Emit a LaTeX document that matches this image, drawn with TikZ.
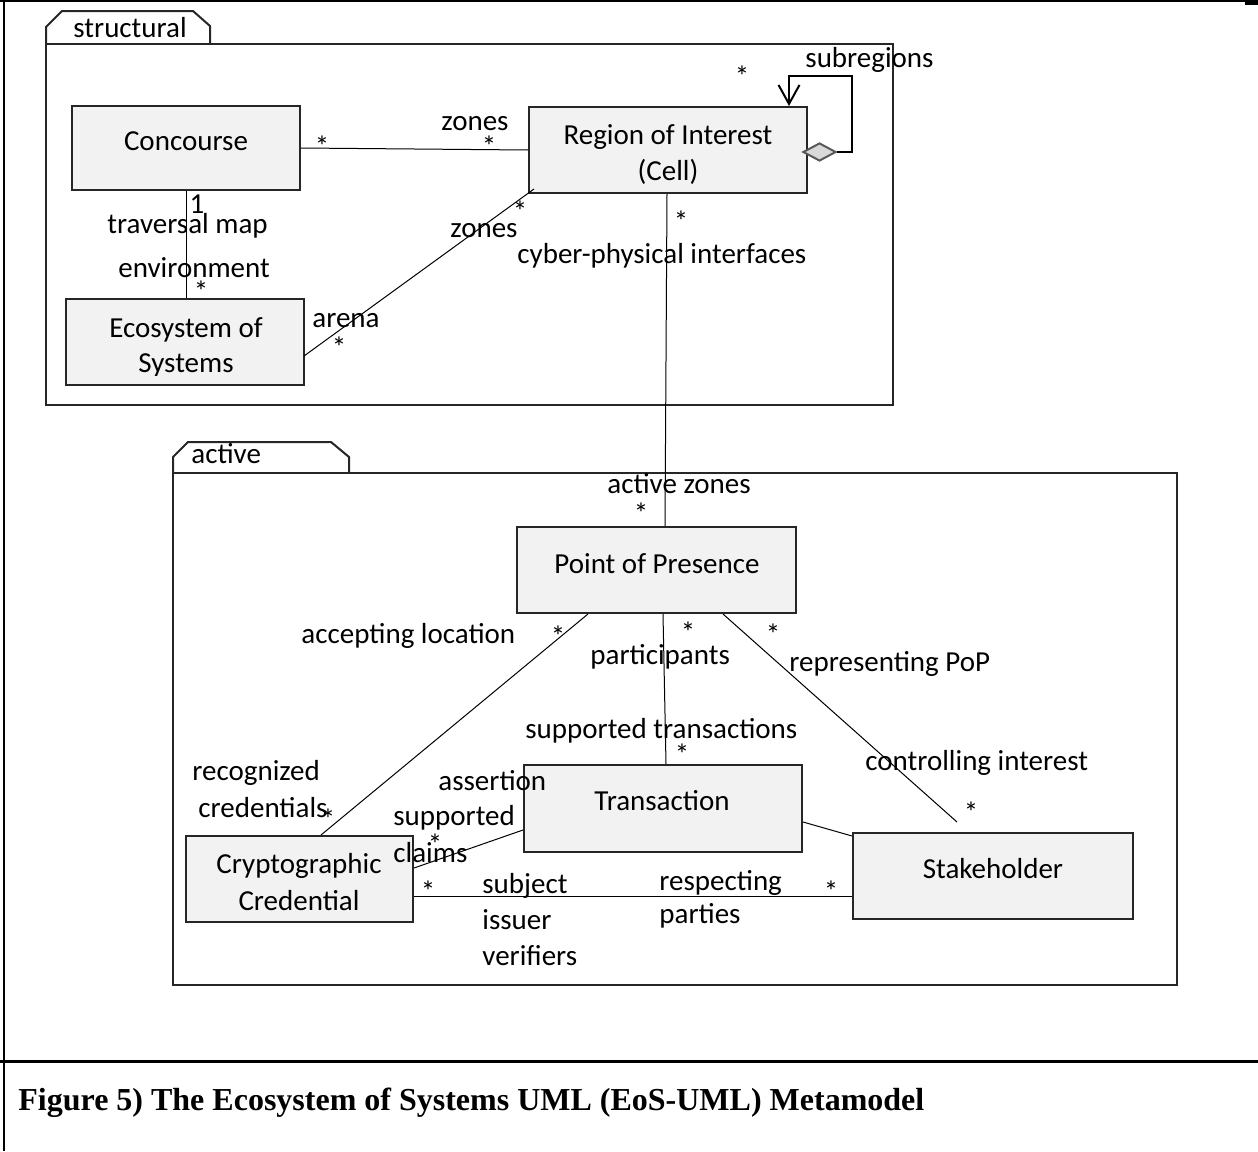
\documentclass[tikz,border=0pt]{standalone}
\usepackage{fontspec}
\setmainfont{Carlito}
\newfontfamily\capfont{Liberation Serif}
\usetikzlibrary{arrows.meta,shapes.geometric,calc}
\definecolor{boxfill}{HTML}{F2F2F2}
\definecolor{aggfill}{HTML}{D9D9D9}
\definecolor{aggedge}{HTML}{595959}
\definecolor{edge}{HTML}{262626}

\begin{document}
\begin{tikzpicture}[x=0.5pt,y=-0.5pt,
  font=\fontsize{14.5}{17.5}\selectfont,
  cls/.style={draw=edge, line width=1pt, fill=boxfill, inner sep=0pt},
  pkg/.style={draw=edge, line width=1pt},
  assoc/.style={draw=black, line width=0.5pt},
  lbl/.style={anchor=base west, inner sep=0pt},
  ctr/.style={anchor=base, inner sep=0pt},
]
\useasboundingbox (0,0) rectangle (1258,1151);

% outer figure frame and caption rule
\draw[line width=1pt] (3.5,0) -- (3.5,1151);
\draw[line width=1pt] (0,1) -- (1245,1);
\fill (1245,0) rectangle (1258,5);
\draw[line width=1.5pt] (0,1061) -- (1258,1061);

% package "structural"
\draw[pkg] (46,44) -- (46,27) -- (62,11) -- (193,11) -- (210,26) -- (210,44);
\draw[pkg] (46,44) rectangle (893,405);
\node[lbl] (pkgS) at (73,37) {structural};

% package "active"
\draw[pkg] (173,473) -- (173,457) -- (188,442) -- (331,442) -- (349,457) -- (349,473);
\draw[pkg] (173,473) rectangle (1177,985);
\node[lbl] (pkgA) at (191,463) {active};

% classes
\node[cls, minimum width=114pt, minimum height=42pt] (conc) at (186,148) {};
\node[ctr] at (186,150) {Concourse};

\node[cls, minimum width=119pt, minimum height=43pt] (eos) at (185,342) {};
\node[ctr] at (186,337) {Ecosystem of};
\begin{scope}
  \clip (66,299) rectangle (304,375);
  \node[ctr] at (186,372) {Systems};
\end{scope}

\node[cls, minimum width=139pt, minimum height=43pt] (roi) at (668,150) {};
\node[ctr] at (668,144) {Region of Interest};
\node[ctr] at (668,180) {(Cell)};

\node[cls, minimum width=139.5pt, minimum height=43pt] (pop) at (656.5,570) {};
\node[ctr] at (657,573) {Point of Presence};

\node[cls, minimum width=139pt, minimum height=43.5pt] (trans) at (663,808.5) {};
\node[ctr] at (662,810) {Transaction};

\node[cls, minimum width=140pt, minimum height=43pt] (stake) at (993,876) {};
\node[ctr] at (993,878) {Stakeholder};

\node[cls, minimum width=113.5pt, minimum height=43pt] (cred) at (299.5,879) {};
\node[ctr] at (299,873) {Cryptographic};
\node[ctr] at (299,910) {Credential};

% associations
\draw[assoc] (conc.east) -- (roi.west);
\draw[assoc] (conc.south) -- (conc.south |- eos.north);
\draw[assoc] ($(eos.east)+(-1,14)$) -- ($(roi.south west)+(6,-5)$);
\draw[assoc] ($(roi.south)+(-1,0)$) -- ($(pop.north)+(8.5,0)$);
\draw[assoc] ($(pop.south west)+(72,0)$) -- ($(cred.north west)+(136,0)$);
\draw[assoc] ($(pop.south)+(6.5,0)$) -- ($(trans.north)+(3,0)$);
\coordinate (ctlEnd) at ($(stake.north west)+(105,-10)$);
\draw[assoc] ($(pop.south east)+(-74,0)$) -- (ctlEnd);
\draw[assoc] ($(trans.east)+(0,13.5)$) -- ($(stake.west)+(0,-40)$);
\draw[assoc] ($(trans.west)+(0,21.5)$) -- ($(cred.east)+(0,-11)$);
\draw[assoc] ($(cred.east)+(0,17)$) -- ($(stake.west)+(0,20)$);

% aggregation: subregions
\node[diamond, draw=aggedge, fill=aggfill, line width=1pt, inner sep=0pt,
      minimum width=16.5pt, minimum height=9pt] (agg) at (819.5,152) {};
\coordinate (loopA) at (852,76);
\coordinate (loopB) at (789,76);
\draw[line width=1pt, -{Straight Barb[length=9.5pt,width=10.5pt,line width=1pt]}]
  (agg.east) -- (agg.east -| loopA) -- (loopA) -- (loopB) -- (loopB |- roi.north);

% role names and multiplicities: structural
\node[ctr] at (322,156) {*};
\node[lbl] at (441,130) {zones};
\node[ctr] at (489,156) {*};
\node[ctr] at (197,213) {1};
\node[lbl] at (107,233) {traversal map};
\node[lbl] at (118,277) {environment};
\node[ctr] at (201,301) {*};
\node[lbl] at (312,327) {arena};
\node[ctr] at (339,357) {*};
\node[ctr] at (520,221) {*};
\node[lbl] at (450,237) {zones};
\node[ctr] at (681,231) {*};
\node[lbl] at (517,263) {cyber-physical interfaces};
\node[ctr] at (742,86) {*};
\node[lbl] at (805,67) {subregions};

% role names and multiplicities: active
\node[lbl] at (607,493) {active zones};
\node[ctr] at (641,523) {*};
\node[lbl] at (301,643) {accepting location};
\node[ctr] at (558,646) {*};
\node[ctr] at (688,642) {*};
\node[lbl] at (590,664) {participants};
\node[ctr] at (773,644) {*};
\node[lbl] at (789,671) {representing PoP};
\node[lbl] at (525,738) {supported transactions};
\node[ctr] at (682,764) {*};
\node[lbl] at (865,770) {controlling interest};
\node[ctr] at (971,822) {*};
\node[lbl] at (192,780) {recognized};
\node[lbl] at (198,817) {credentials};
\node[ctr] at (328,829) {*};
\node[lbl] at (438,790) {assertion};
\node[lbl] at (393,825) {supported};
\node[ctr] at (435,854) {*};
\node[lbl] at (393,862) {claims};
\node[ctr] at (428,901) {*};
\node[lbl] at (482,893) {subject};
\node[lbl] at (482,929) {issuer};
\node[lbl] at (482,965) {verifiers};
\node[lbl] at (659,890) {respecting};
\node[lbl] at (659,923) {parties};
\node[ctr] at (831,901) {*};

% caption
\node[lbl, font=\capfont\bfseries\fontsize{16}{19}\selectfont] (caption) at (18,1110)
  {Figure 5) The Ecosystem of Systems UML (EoS-UML) Metamodel};
\end{tikzpicture}
\end{document}
